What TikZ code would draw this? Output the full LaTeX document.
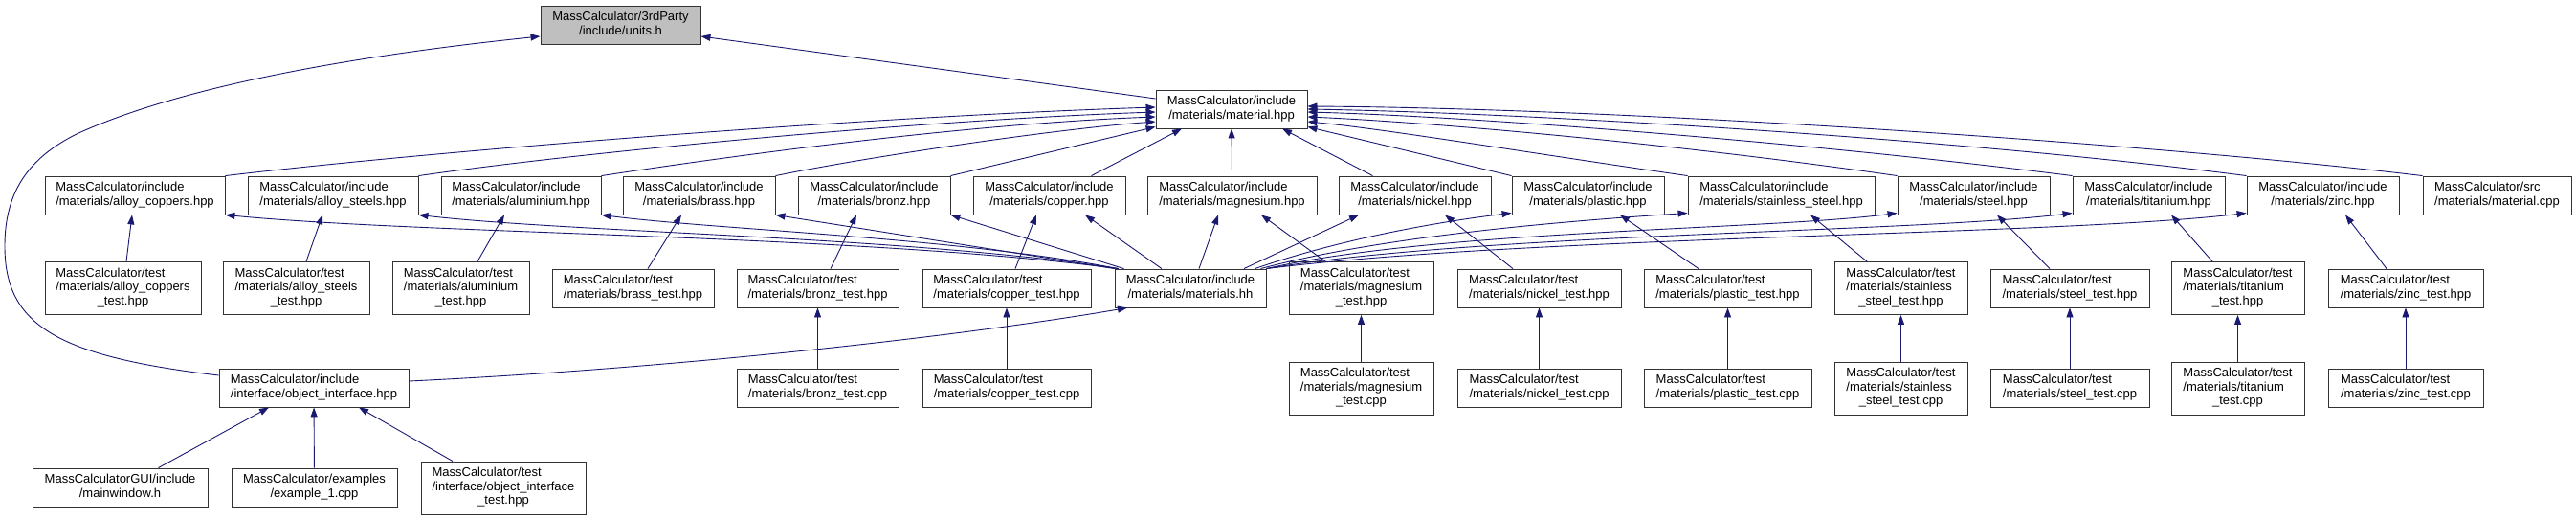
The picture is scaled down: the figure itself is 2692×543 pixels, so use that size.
\documentclass[tikz,border=0pt]{standalone}
\usepackage{fontspec}
\setmainfont{Liberation Sans}
\usetikzlibrary{arrows.meta}
\definecolor{edgeblue}{RGB}{25,25,112}
\definecolor{rootgrey}{RGB}{191,191,191}
% file labels: first lines left, last line centred
\newcommand{\lbltwo}[2]{\begin{tabular}{@{}l@{}}#1\\\multicolumn{1}{@{}c@{}}{#2}\end{tabular}}
\newcommand{\lblthree}[3]{\begin{tabular}{@{}l@{}}#1\\#2\\\multicolumn{1}{@{}c@{}}{#3}\end{tabular}}

\begin{document}
\begin{tikzpicture}[x=1pt,y=-1pt,
    box/.style={draw=black!80,line width=0.9pt,fill=white,inner sep=0pt,
      minimum height=40pt,font=\fontsize{13}{14.5}\selectfont},
    tallbox/.style={box,minimum height=55pt},
    dep/.style={draw=edgeblue,line width=0.9pt,-{Triangle[length=10pt,width=7pt]}}]
\useasboundingbox (0,0) rectangle (2692,543);

% root and material base
\node[box,fill=rootgrey,minimum width=167pt] (units) at (648.5,26) {\lbltwo{MassCalculator/3rdParty}{/include/units.h}};
\node[box,minimum width=158pt] (material) at (1287,114) {\lbltwo{MassCalculator/include}{/materials/material.hpp}};

% material headers
\node[box,minimum width=188pt] (alloyCop) at (141,204) {\lbltwo{MassCalculator/include}{/materials/alloy\_coppers.hpp}};
\node[box,minimum width=178pt] (alloySte) at (348,204) {\lbltwo{MassCalculator/include}{/materials/alloy\_steels.hpp}};
\node[box,minimum width=167pt] (alu) at (544.5,204) {\lbltwo{MassCalculator/include}{/materials/aluminium.hpp}};
\node[box,minimum width=159pt] (brass) at (730.5,204) {\lbltwo{MassCalculator/include}{/materials/brass.hpp}};
\node[box,minimum width=159pt] (bronz) at (913.5,204) {\lbltwo{MassCalculator/include}{/materials/bronz.hpp}};
\node[box,minimum width=159pt] (copper) at (1096.5,204) {\lbltwo{MassCalculator/include}{/materials/copper.hpp}};
\node[box,minimum width=177pt] (mag) at (1287.5,204) {\lbltwo{MassCalculator/include}{/materials/magnesium.hpp}};
\node[box,minimum width=159pt] (nickel) at (1478.5,204) {\lbltwo{MassCalculator/include}{/materials/nickel.hpp}};
\node[box,minimum width=159pt] (plastic) at (1659.5,204) {\lbltwo{MassCalculator/include}{/materials/plastic.hpp}};
\node[box,minimum width=195pt] (stain) at (1861.5,204) {\lbltwo{MassCalculator/include}{/materials/stainless\_steel.hpp}};
\node[box,minimum width=159pt] (steel) at (2062.5,204) {\lbltwo{MassCalculator/include}{/materials/steel.hpp}};
\node[box,minimum width=159pt] (tit) at (2245.5,204) {\lbltwo{MassCalculator/include}{/materials/titanium.hpp}};
\node[box,minimum width=159pt] (zinc) at (2427.5,204) {\lbltwo{MassCalculator/include}{/materials/zinc.hpp}};
\node[box,minimum width=155pt] (matcpp) at (2609.5,204) {\lbltwo{MassCalculator/src}{/materials/material.cpp}};

% test headers and materials.hh
\node[tallbox,minimum width=163pt] (alloyCopT) at (128.5,301) {\lblthree{MassCalculator/test}{/materials/alloy\_coppers}{\_test.hpp}};
\node[tallbox,minimum width=153pt] (alloySteT) at (309.5,301) {\lblthree{MassCalculator/test}{/materials/alloy\_steels}{\_test.hpp}};
\node[tallbox,minimum width=143pt] (aluT) at (481.5,301) {\lblthree{MassCalculator/test}{/materials/aluminium}{\_test.hpp}};
\node[box,minimum width=169pt] (brassT) at (661.5,301) {\lbltwo{MassCalculator/test}{/materials/brass\_test.hpp}};
\node[box,minimum width=169pt] (bronzT) at (854.5,301) {\lbltwo{MassCalculator/test}{/materials/bronz\_test.hpp}};
\node[box,minimum width=176pt] (copperT) at (1052,301) {\lbltwo{MassCalculator/test}{/materials/copper\_test.hpp}};
\node[box,minimum width=158pt] (matsHH) at (1244,301) {\lbltwo{MassCalculator/include}{/materials/materials.hh}};
\node[tallbox,minimum width=151pt] (magT) at (1422.5,301) {\lblthree{MassCalculator/test}{/materials/magnesium}{\_test.hpp}};
\node[box,minimum width=171pt] (nickelT) at (1608.5,301) {\lbltwo{MassCalculator/test}{/materials/nickel\_test.hpp}};
\node[box,minimum width=175pt] (plasticT) at (1805.5,301) {\lbltwo{MassCalculator/test}{/materials/plastic\_test.hpp}};
\node[tallbox,minimum width=139pt] (stainT) at (1986.5,301) {\lblthree{MassCalculator/test}{/materials/stainless}{\_steel\_test.hpp}};
\node[box,minimum width=166pt] (steelT) at (2163,301) {\lbltwo{MassCalculator/test}{/materials/steel\_test.hpp}};
\node[tallbox,minimum width=139pt] (titT) at (2338.5,301) {\lblthree{MassCalculator/test}{/materials/titanium}{\_test.hpp}};
\node[box,minimum width=162pt] (zincT) at (2514,301) {\lbltwo{MassCalculator/test}{/materials/zinc\_test.hpp}};

% interface and test sources
\node[box,minimum width=198pt] (oiface) at (328,405) {\lbltwo{MassCalculator/include}{/interface/object\_interface.hpp}};
\node[box,minimum width=169pt] (bronzTc) at (854.5,405) {\lbltwo{MassCalculator/test}{/materials/bronz\_test.cpp}};
\node[box,minimum width=176pt] (copperTc) at (1052,405) {\lbltwo{MassCalculator/test}{/materials/copper\_test.cpp}};
\node[tallbox,minimum width=151pt] (magTc) at (1422.5,405.5) {\lblthree{MassCalculator/test}{/materials/magnesium}{\_test.cpp}};
\node[box,minimum width=171pt] (nickelTc) at (1608.5,405) {\lbltwo{MassCalculator/test}{/materials/nickel\_test.cpp}};
\node[box,minimum width=175pt] (plasticTc) at (1805.5,405) {\lbltwo{MassCalculator/test}{/materials/plastic\_test.cpp}};
\node[tallbox,minimum width=139pt] (stainTc) at (1986.5,405.5) {\lblthree{MassCalculator/test}{/materials/stainless}{\_steel\_test.cpp}};
\node[box,minimum width=166pt] (steelTc) at (2163,405) {\lbltwo{MassCalculator/test}{/materials/steel\_test.cpp}};
\node[tallbox,minimum width=139pt] (titTc) at (2338.5,405.5) {\lblthree{MassCalculator/test}{/materials/titanium}{\_test.cpp}};
\node[box,minimum width=162pt] (zincTc) at (2514,405) {\lbltwo{MassCalculator/test}{/materials/zinc\_test.cpp}};

% users of the interface
\node[box,minimum width=183pt] (mainw) at (125.5,509) {\lbltwo{MassCalculatorGUI/include}{/mainwindow.h}};
\node[box,minimum width=173pt] (ex1) at (328.5,509) {\lbltwo{MassCalculator/examples}{/example\_1.cpp}};
\node[tallbox,minimum width=172pt] (oifaceT) at (526,509.5) {\lblthree{MassCalculator/test}{/interface/object\_interface}{\_test.hpp}};

% includes of units.h
\draw[dep] ([yshift=11pt]material.west) -- ([yshift=-12pt]units.east);
\draw[dep] ([yshift=13pt]oiface.west) .. controls (60,372) and (5,340) .. (5,257)
  .. controls (5,200) and (30,165) .. (80,140)
  .. controls (200,85) and (400,55) .. ([yshift=-12pt]units.west);
\draw[dep] ([yshift=7pt]oiface.east) .. controls (700,385) and (1000,352) .. ([xshift=-66pt]matsHH.south);

% headers -> material.hpp
\draw[dep] (alloyCop.north east) .. controls (450,158) and (900,122) .. ([yshift=2pt]material.west);
\draw[dep] (alloySte.north east) .. controls (600,160) and (950,126) .. ([yshift=-3pt]material.west);
\draw[dep] (alu.north east) .. controls (750,165) and (1000,130) .. ([yshift=-8pt]material.west);
\draw[dep] (brass.north east) .. controls (900,165) and (1100,135) .. ([yshift=-13pt]material.west);
\draw[dep] (bronz.north east) -- ([yshift=2pt]material.south west);
\draw[dep] ([xshift=44pt]copper.north) -- ([xshift=-52pt]material.south);
\draw[dep] (mag.north) -- (material.south);
\draw[dep] ([xshift=-44pt]nickel.north) -- ([xshift=53pt]material.south);
\draw[dep] (plastic.north west) -- ([yshift=2pt]material.south east);
\draw[dep] (stain.north west) .. controls (1600,160) and (1450,135) .. ([yshift=-13pt]material.east);
\draw[dep] (steel.north west) .. controls (1750,150) and (1500,128) .. ([yshift=-8pt]material.east);
\draw[dep] (tit.north west) .. controls (1900,150) and (1550,122) .. ([yshift=-3pt]material.east);
\draw[dep] (zinc.north west) .. controls (2050,145) and (1600,118) .. (material.east);
\draw[dep] (matcpp.north west) .. controls (2250,150) and (1700,113) .. ([yshift=3pt]material.east);

% materials.hh -> headers
\draw[dep] ([xshift=4pt]matsHH.north west) .. controls (900,245) and (450,245) .. (alloyCop.south east);
\draw[dep] ([xshift=4pt]matsHH.north west) .. controls (950,247) and (600,243) .. (alloySte.south east);
\draw[dep] ([xshift=4pt]matsHH.north west) .. controls (1000,248) and (750,240) .. (alu.south east);
\draw[dep] (matsHH.north west) -- (brass.south east);
\draw[dep] ([xshift=10pt]matsHH.north west) -- (bronz.south east);
\draw[dep] ([xshift=-30pt]matsHH.north) -- ([xshift=37.5pt]copper.south);
\draw[dep] ([xshift=9pt]matsHH.north) -- ([xshift=-14.5pt]mag.south);
\draw[dep] ([xshift=56pt]matsHH.north) -- ([xshift=-58.5pt]nickel.south);
\draw[dep] ([xshift=-12pt]matsHH.north east) .. controls (1400,250) and (1500,232) .. ([yshift=2pt]plastic.south west);
\draw[dep] ([xshift=-6pt]matsHH.north east) .. controls (1450,245) and (1650,230) .. ([yshift=2pt]stain.south west);
\draw[dep] (matsHH.north east) .. controls (1500,240) and (1850,240) .. ([yshift=2pt]steel.south west);
\draw[dep] (matsHH.north east) .. controls (1550,243) and (2000,243) .. ([yshift=2pt]tit.south west);
\draw[dep] (matsHH.north east) .. controls (1600,246) and (2150,246) .. ([yshift=2pt]zinc.south west);

% test headers -> headers
\foreach \t/\h/\s/\e in {alloyCopT/alloyCop/3.5/-3, alloySteT/alloySte/10.5/-11,
    aluT/alu/17.5/-17.5, brassT/brass/15.5/-18.5, bronzT/bronz/13.5/-18.5,
    copperT/copper/9/-13.5, magT/mag/-37.5/30.5, nickelT/nickel/-27.5/31.5,
    plasticT/plastic/-30.5/33.5, stainT/stain/-35.5/30.5, steelT/steel/-21/24.5,
    titT/tit/-26.5/23.5, zincT/zinc/-20/23.5}
  \draw[dep] ([xshift=\s pt]\t.north) -- ([xshift=\e pt]\h.south);

% test sources -> test headers
\foreach \c/\t in {bronzTc/bronzT, copperTc/copperT, magTc/magT, nickelTc/nickelT,
    plasticTc/plasticT, stainTc/stainT, steelTc/steelT, titTc/titT, zincTc/zincT}
  \draw[dep] (\c) -- (\t);

% interface users
\draw[dep] ([xshift=40pt]mainw.north) -- ([xshift=-47pt]oiface.south);
\draw[dep] (ex1) -- (oiface);
\draw[dep] ([xshift=-53pt]oifaceT.north) -- ([xshift=47pt]oiface.south);
\end{tikzpicture}
\end{document}
